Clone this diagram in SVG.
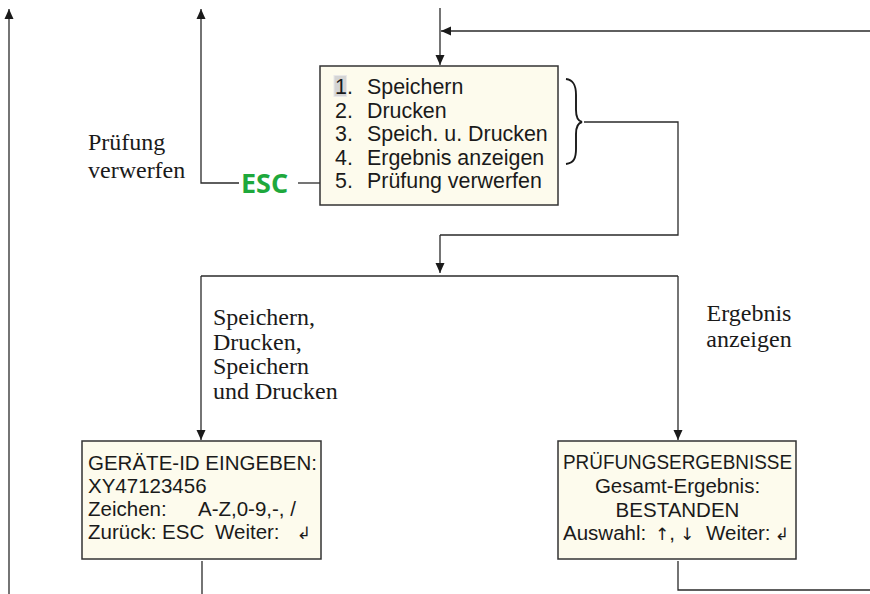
<svg xmlns="http://www.w3.org/2000/svg" width="870" height="594" viewBox="0 0 870 594">
<defs>
<marker id="ah" viewBox="0 0 10 10" refX="10" refY="5" markerWidth="10" markerHeight="10" markerUnits="userSpaceOnUse" orient="auto">
<path d="M0,0.5 L10,5 L0,9.5 Z" fill="#1a1a1a"/>
</marker>
<style>
.ln{fill:none;stroke:#2a2a2a;stroke-width:1.3}
.arr{fill:none;stroke:#2a2a2a;stroke-width:1.3;marker-end:url(#ah)}
.box{fill:#fdfbed;stroke:#333;stroke-width:1.5}
.mono{font-family:"Liberation Sans",Arial,sans-serif;font-size:21.4px;fill:#1a1a1a;white-space:pre}
.scr{font-family:"Liberation Sans",Arial,sans-serif;font-size:20.5px;fill:#1a1a1a;white-space:pre}
.sym{font-family:"DejaVu Sans",sans-serif;font-size:17px;fill:#1a1a1a}
.lbl{font-family:"Liberation Serif","Times New Roman",serif;font-size:24px;fill:#1a1a1a}
.esc{font-family:"Open Sans","Liberation Sans",sans-serif;font-weight:bold;font-size:27px;fill:#1ea83c}
</style>
</defs>
<g id="connectors">
<path class="arr" d="M9,594 V9"/>
<path class="ln" d="M320,183 H298"/>
<path class="arr" d="M239,183 H201 V9"/>
<path class="arr" d="M440,8 V65"/>
<path class="arr" d="M870,31 H441"/>
<path d="M566,79 C574,80 576,86 576,95 L576,110 C576,118 578,121 582,122 C578,123 576,126 576,134 L576,149 C576,158 574,163 566,164" fill="none" stroke="#1a1a1a" stroke-width="1.9"/>
<path class="ln" d="M584,122 H678 V235 H440"/>
<path class="arr" d="M440,235 V273"/>
<path class="ln" d="M201,276 H678"/>
<path class="arr" d="M201,276 V440"/>
<path class="arr" d="M678,276 V440"/>
<path class="ln" d="M202,561 V594"/>
<path class="ln" d="M678,561 V590 H870"/>
</g>
<g id="menu">
<rect class="box" x="320" y="66" width="238" height="139"/>
<rect x="334" y="75.5" width="12.5" height="21" fill="#d4d4d4" stroke="#e8e8e8" stroke-width="1"/>
<text class="mono" x="335" y="94">1.<tspan x="367">Speichern</tspan></text>
<text class="mono" x="335" y="117.5">2.<tspan x="367">Drucken</tspan></text>
<text class="mono" x="335" y="141">3.<tspan x="367">Speich. u. Drucken</tspan></text>
<text class="mono" x="335" y="164.5">4.<tspan x="367">Ergebnis anzeigen</tspan></text>
<text class="mono" x="335" y="188">5.<tspan x="367">Prüfung verwerfen</tspan></text>
</g>
<g id="esc">
<text class="esc" x="241" y="192.5">ESC</text>
</g>
<g id="label-verwerfen">
<text class="lbl" x="88" y="150">Prüfung</text>
<text class="lbl" x="88" y="178">verwerfen</text>
</g>
<g id="label-speichern">
<text class="lbl" x="213" y="325">Speichern,</text>
<text class="lbl" x="213" y="349.5">Drucken,</text>
<text class="lbl" x="213" y="374">Speichern</text>
<text class="lbl" x="213" y="399">und Drucken</text>
</g>
<g id="label-ergebnis">
<text class="lbl" x="749" y="321" text-anchor="middle">Ergebnis</text>
<text class="lbl" x="749" y="347" text-anchor="middle">anzeigen</text>
</g>
<g id="geraete-id">
<rect class="box" x="82" y="441" width="239" height="118"/>
<text class="scr" x="88" y="470" textLength="229" lengthAdjust="spacingAndGlyphs">GERÄTE-ID EINGEBEN:</text>
<text class="scr" x="88" y="493">XY47123456</text>
<text class="scr" x="88" y="516">Zeichen:<tspan x="198">A-Z,0-9,-, /</tspan></text>
<text class="scr" x="88" y="539">Zurück: ESC<tspan x="215">Weiter:</tspan><tspan class="sym" x="297">↲</tspan></text>
</g>
<g id="ergebnisse">
<rect class="box" x="558" y="441" width="238" height="118"/>
<text class="scr" x="677.5" y="469" text-anchor="middle" textLength="229" lengthAdjust="spacingAndGlyphs">PRÜFUNGSERGEBNISSE</text>
<text class="scr" x="677.5" y="493" text-anchor="middle">Gesamt-Ergebnis:</text>
<text class="scr" x="677.5" y="517" text-anchor="middle">BESTANDEN</text>
<text class="scr" x="563" y="540">Auswahl:<tspan class="sym" x="655">↑</tspan>,<tspan class="sym" x="680">↓</tspan><tspan x="706">Weiter:</tspan><tspan class="sym" x="775">↲</tspan></text>
</g>
</svg>
